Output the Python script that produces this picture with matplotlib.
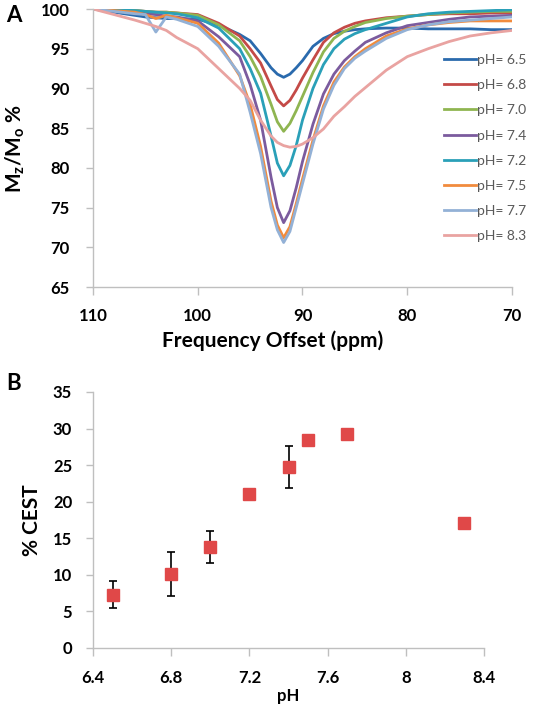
import matplotlib
matplotlib.use('Agg')
import matplotlib.pyplot as plt

plt.rcParams['font.family'] = 'Lato'
plt.rcParams['mathtext.fontset'] = 'custom'
plt.rcParams['mathtext.rm'] = 'Lato:bold'

# panel A: z-spectra, offset in ppm
ppm = [110, 108, 106, 105, 104, 103, 102, 100, 98, 96, 95, 94, 93, 92.4, 91.8,
       91.2, 90.6, 90, 89, 88, 87, 86, 85, 84, 82, 80, 78, 76, 74, 72, 70]

ph65 = [100, 99.6, 99.2, 99.0, 98.9, 98.8, 98.8, 98.7, 98.0, 96.8, 96.0, 94.4, 92.6, 91.8, 91.4,
        91.8, 92.6, 93.5, 95.3, 96.3, 96.9, 97.2, 97.4, 97.5, 97.6, 97.6, 97.5, 97.5, 97.5, 97.4, 97.4]
ph68 = [100, 99.9, 99.8, 99.7, 99.6, 99.6, 99.5, 99.3, 98.2, 96.6, 95.0, 93.2, 90.3, 88.6, 87.8,
        88.5, 89.8, 91.3, 93.6, 95.8, 97.0, 97.7, 98.2, 98.5, 98.9, 99.1, 99.3, 99.4, 99.4, 99.5, 99.5]
ph70 = [100, 99.9, 99.8, 99.7, 99.6, 99.6, 99.5, 99.2, 98.0, 96.0, 94.0, 91.5, 88.0, 85.8, 84.6,
        85.6, 87.2, 89.0, 92.0, 94.6, 96.3, 97.2, 97.8, 98.3, 98.8, 99.1, 99.3, 99.5, 99.6, 99.7, 99.7]
ph74 = [100, 99.8, 99.6, 99.4, 99.3, 99.1, 99.0, 98.5, 96.5, 94.0, 90.5, 86.0, 78.8, 75.0, 73.1,
        74.6, 77.5, 80.8, 85.5, 89.3, 91.8, 93.5, 94.7, 95.8, 97.0, 97.9, 98.3, 98.7, 99.0, 99.1, 99.2]
ph72 = [100, 99.9, 99.8, 99.7, 99.6, 99.5, 99.4, 98.9, 97.6, 95.0, 92.5, 89.4, 84.0, 80.6, 79.0,
        80.3, 82.8, 86.0, 90.0, 93.0, 95.0, 96.2, 96.9, 97.4, 98.2, 99.0, 99.4, 99.6, 99.7, 99.8, 99.9]
ph75 = [100, 99.8, 99.6, 99.3, 98.8, 99.2, 98.9, 98.2, 95.7, 91.6, 88.0, 82.7, 75.8, 72.8, 71.2,
        72.6, 75.5, 78.6, 83.5, 87.8, 90.8, 92.7, 94.0, 95.0, 96.6, 97.5, 98.0, 98.3, 98.5, 98.5, 98.5]
ph77 = [100, 99.7, 99.4, 99.3, 97.1, 99.0, 98.7, 97.8, 95.3, 91.8, 87.0, 81.8, 75.0, 72.2, 70.6,
        72.0, 75.0, 78.0, 83.0, 87.4, 90.4, 92.5, 93.8, 94.7, 96.3, 97.4, 98.0, 98.4, 98.6, 98.8, 99.0]
ph83 = [100, 99.3, 98.6, 98.2, 97.8, 97.3, 96.4, 95.0, 92.5, 90.0, 88.5, 86.0, 84.0, 83.2, 82.8,
        82.6, 82.7, 83.0, 83.8, 84.9, 86.5, 87.7, 89.0, 90.1, 92.3, 94.0, 95.0, 95.9, 96.6, 97.0, 97.3]

series = [ph65, ph68, ph70, ph74, ph72, ph75, ph77, ph83]
labels = ['pH= 6.5', 'pH= 6.8', 'pH= 7.0', 'pH= 7.4', 'pH= 7.2', 'pH= 7.5', 'pH= 7.7', 'pH= 8.3']
colors = ['#2a6aad', '#c44a47', '#8fb551', '#7b5b9e', '#2aa0b8', '#f18b3d', '#93b1d6', '#e9a3a1']

# panel B: %CEST vs pH
ph = [6.5, 6.8, 7.0, 7.2, 7.4, 7.5, 7.7, 8.3]
cest = [7.3, 10.1, 13.8, 21.1, 24.7, 28.5, 29.2, 17.1]
cest_err = [1.8, 3.0, 2.15, 0, 2.85, 0, 0, 0]

fig = plt.figure(figsize=(5.36, 7.09), dpi=100)
W, H = 536, 709

def style(ax):
    for s in ['top', 'right']:
        ax.spines[s].set_visible(False)
    for s in ['left', 'bottom']:
        ax.spines[s].set_color('#bfbfbf')
        ax.spines[s].set_linewidth(1)
    ax.tick_params(colors='#bfbfbf', labelcolor='black', width=1)
    for t in ax.get_xticklabels() + ax.get_yticklabels():
        t.set_fontweight('bold')
        t.set_fontsize(12)

# --- A ---
ax1 = fig.add_axes([93 / W, 1 - 287 / H, (512 - 93) / W, (287 - 9) / H])
for y, lab, c in zip(series, labels, colors):
    ax1.plot(ppm, y, color=c, lw=2, label=lab)
ax1.set_xlim(110, 70)
ax1.set_ylim(65, 100)
ax1.set_xticks([110, 100, 90, 80, 70])
ax1.set_yticks(range(65, 101, 5))
ax1.tick_params(axis='x', length=6, pad=9)
ax1.tick_params(axis='y', length=5, pad=12)
style(ax1)
ax1.set_xlabel('Frequency Offset (ppm)', fontsize=15, fontweight='bold', labelpad=9)
ax1.xaxis.set_label_coords((273 - 93) / 419, -0.155)
ax1.set_ylabel(r'M$_{\rm z}$/M$_{\rm o}$ %', fontsize=15, fontweight='bold', labelpad=10)
leg = ax1.legend(loc='upper left', bbox_to_anchor=(437 / W, 1 - 47 / H),
                 bbox_transform=fig.transFigure, frameon=False, fontsize=10,
                 handlelength=2.3, handletextpad=0.1, labelspacing=0.95, borderpad=0)
for t in leg.get_texts():
    t.set_color('#595959')

# --- B ---
ax2 = fig.add_axes([93 / W, 1 - 648 / H, (484 - 93) / W, (648 - 392) / H])
ax2.errorbar(ph, cest, yerr=cest_err, fmt='none', ecolor='black', elinewidth=1.2,
             capsize=3, capthick=1.2, zorder=2)
ax2.plot(ph, cest, 's', color='#e04848', ms=9, zorder=3)
ax2.set_xlim(6.4, 8.4)
ax2.set_ylim(0, 35)
ax2.set_xticks([6.4, 6.8, 7.2, 7.6, 8.0, 8.4])
ax2.set_xticklabels(['6.4', '6.8', '7.2', '7.6', '8', '8.4'])
ax2.set_yticks(range(0, 36, 5))
ax2.tick_params(axis='x', length=6, pad=10)
ax2.tick_params(axis='y', length=5, pad=10)
style(ax2)
ax2.set_xlabel('pH', fontsize=12, fontweight='bold', labelpad=1)
ax2.set_ylabel('% CEST', fontsize=15, fontweight='bold', labelpad=8)

fig.text(14 / W, 1 - 16 / H, 'A', fontsize=16, fontweight='bold', ha='center', va='center')
fig.text(14 / W, 1 - 383 / H, 'B', fontsize=16, fontweight='bold', ha='center', va='center')

fig.savefig('out.png', dpi=100)
